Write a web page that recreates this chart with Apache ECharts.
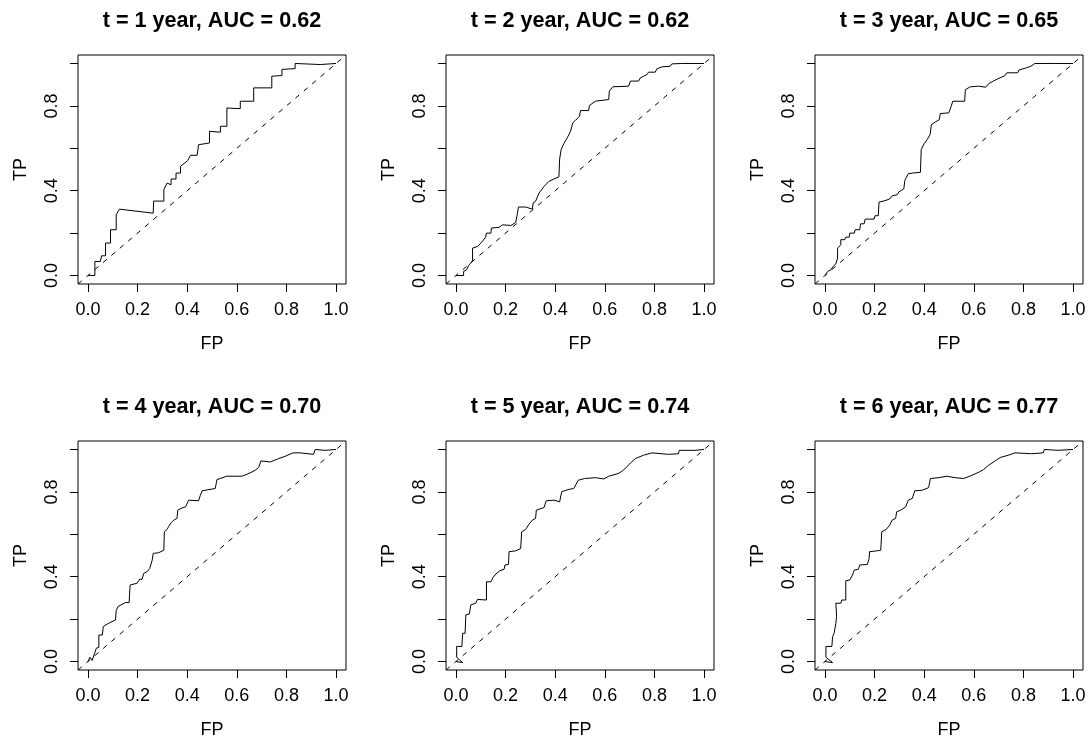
<!DOCTYPE html>
<html lang="en">
<head>
  <meta charset="UTF-8">
  <title>ROC</title>
  <style>
    * { margin: 0; padding: 0; }
    body { background: #fff; }
    #main { width: 1090px; height: 740px; }
  </style>
</head>
<body>
  <div id="main"></div>
  <script src="https://cdn.jsdelivr.net/npm/echarts@6/dist/echarts.min.js"></script>
  <script>
    // panel titles
    var titles = [
      't = 1 year, AUC = 0.62', 't = 2 year, AUC = 0.62', 't = 3 year, AUC = 0.65',
      't = 4 year, AUC = 0.70', 't = 5 year, AUC = 0.74', 't = 6 year, AUC = 0.77'
    ];
    var xTicks = [0, 0.2, 0.4, 0.6, 0.8, 1];
    var yTicks = [0, 0.2, 0.4, 0.6, 0.8, 1];
    var yLabels = [0, 0.4, 0.8];
    var diag = [-0.04, 1.04];

    // ROC points (FP, TP)
    var fp1 = [0, .028, .028, .050, .055, .055, .071, .071, .091, .091, .114, .114, .127, .263, .265, .306, .306, .319, .335, .335, .355, .355, .373, .373, .402, .413, .440, .446, .490, .490, .534, .534, .560, .560, .614, .614, .668, .668, .741, .741, .782, .782, .835, .835, .936, 1];
    var tp1 = [0, 0, .066, .066, .058, .093, .093, .153, .153, .216, .216, .287, .313, .294, .351, .351, .405, .436, .428, .455, .455, .483, .483, .515, .542, .567, .567, .617, .625, .680, .676, .704, .704, .790, .787, .822, .822, .885, .885, .940, .943, .972, .976, 1.0, .995, 1];

    var fp2 = [0, .031, .031, .043, .051, .067, .067, .087, .103, .120, .123, .141, .143, .174, .187, .221, .241, .248, .252, .281, .308, .311, .321, .335, .355, .375, .395, .415, .418, .424, .435, .452, .462, .471, .482, .498, .502, .535, .538, .562, .616, .618, .632, .696, .703, .736, .743, .770, .776, .803, .810, .830, .863, .870, .910, 1];
    var tp2 = [0, 0, .019, .027, .047, .069, .129, .137, .156, .181, .200, .200, .224, .227, .239, .236, .250, .294, .323, .323, .313, .342, .350, .389, .420, .444, .455, .465, .550, .594, .622, .657, .680, .720, .732, .751, .778, .778, .802, .822, .830, .869, .890, .893, .917, .917, .932, .948, .959, .959, .975, .984, .987, .998, 1.0, 1];

    var fp3 = [0, .011, .017, .024, .033, .044, .051, .051, .064, .064, .080, .084, .098, .100, .118, .122, .140, .144, .158, .162, .198, .202, .215, .218, .242, .261, .271, .291, .298, .318, .322, .336, .352, .385, .388, .400, .412, .424, .429, .445, .461, .465, .499, .509, .515, .563, .566, .586, .619, .648, .659, .679, .697, .726, .733, .777, .782, .813, .830, .846, .920, 1];
    var tp3 = [0, .019, .011, .027, .043, .055, .082, .129, .145, .169, .169, .181, .181, .200, .200, .216, .216, .244, .244, .266, .266, .282, .282, .346, .353, .361, .376, .381, .394, .409, .449, .480, .483, .487, .594, .622, .641, .665, .712, .724, .735, .764, .767, .798, .822, .822, .877, .890, .893, .888, .904, .917, .928, .943, .956, .956, .969, .980, .987, 1.0, 1.0, 1];

    var fp4 = [0, .008, .017, .027, .034, .044, .044, .058, .062, .078, .111, .114, .121, .151, .166, .170, .198, .209, .218, .225, .239, .249, .259, .263, .285, .306, .308, .319, .326, .335, .346, .359, .362, .383, .393, .406, .446, .453, .460, .513, .520, .560, .621, .641, .661, .674, .688, .697, .735, .768, .795, .826, .855, .909, .916, .956, 1];
    var tp4 = [0, .020, .005, .039, .063, .067, .125, .125, .165, .177, .196, .240, .259, .278, .278, .361, .369, .389, .387, .416, .424, .439, .478, .510, .513, .525, .612, .623, .638, .654, .667, .675, .714, .726, .729, .761, .758, .784, .805, .816, .858, .874, .874, .883, .894, .902, .915, .946, .941, .957, .968, .984, .984, .977, 1.0, .996, 1];

    var fp5 = [0, .027, .003, .003, .024, .027, .037, .040, .054, .060, .080, .087, .123, .123, .141, .150, .161, .177, .194, .198, .212, .214, .241, .261, .265, .281, .295, .308, .321, .324, .355, .364, .395, .418, .426, .452, .475, .493, .519, .562, .596, .616, .653, .669, .689, .703, .723, .756, .790, .857, .897, .900, .964, 1];
    var tp5 = [0, -.005, .020, .071, .071, .133, .133, .220, .224, .267, .275, .293, .290, .376, .376, .397, .413, .428, .435, .455, .458, .518, .522, .533, .612, .623, .648, .667, .675, .714, .726, .758, .761, .753, .800, .811, .816, .855, .863, .867, .861, .874, .886, .897, .918, .936, .957, .973, .984, .977, .980, .996, .996, 1];

    var fp6 = [0, .031, .004, .004, .028, .031, .037, .044, .047, .044, .064, .068, .084, .084, .100, .111, .118, .135, .140, .171, .178, .180, .211, .225, .229, .247, .261, .271, .285, .289, .305, .325, .336, .352, .360, .362, .392, .418, .425, .459, .492, .525, .559, .592, .622, .639, .659, .686, .706, .739, .766, .833, .880, .884, .940, 1];
    var tp6 = [0, -.005, .020, .071, .071, .118, .133, .180, .212, .275, .275, .290, .290, .381, .384, .408, .431, .435, .455, .458, .486, .518, .522, .525, .612, .623, .643, .667, .675, .706, .714, .729, .761, .769, .776, .805, .808, .820, .863, .867, .874, .867, .863, .878, .894, .905, .925, .946, .962, .973, .984, .980, .984, 1.0, .996, 1];

    var fps = [fp1, fp2, fp3, fp4, fp5, fp6];
    var tps = [tp1, tp2, tp3, tp4, tp5, tp6];

    var lefts = [78, 446, 815];
    var tops = [55, 441];
    var gw = 268, gh = 229;
    var font = '"Liberation Sans", Arial, sans-serif';

    var chart = echarts.init(document.getElementById('main'));
    var grid = [], xAxis = [], yAxis = [], series = [], graphic = [];

    for (var i = 0; i < 6; i++) {
      var l = lefts[i % 3], t = tops[Math.floor(i / 3)];
      grid.push({ left: l, top: t, width: gw, height: gh, show: true, borderColor: '#000', borderWidth: 1, containLabel: false });
      xAxis.push({
        gridIndex: i, type: 'value', min: diag[0], max: diag[1],
        name: 'FP', nameLocation: 'middle', nameGap: 51,
        nameTextStyle: { fontFamily: font, fontSize: 18, color: '#000' },
        axisLine: { show: false, onZero: false },
        splitLine: { show: false },
        axisTick: { show: true, length: 8, lineStyle: { color: '#000' }, customValues: xTicks },
        axisLabel: { customValues: xTicks, margin: 17, fontFamily: font, fontSize: 18, color: '#000',
          formatter: function (v) { return v.toFixed(1); } }
      });
      yAxis.push({
        gridIndex: i, type: 'value', min: diag[0], max: diag[1],
        name: 'TP', nameLocation: 'middle', nameGap: 48,
        nameTextStyle: { fontFamily: font, fontSize: 18, color: '#000' },
        axisLine: { show: false, onZero: false },
        splitLine: { show: false },
        axisTick: { show: true, length: 8, lineStyle: { color: '#000' }, customValues: yTicks },
        axisLabel: { customValues: yLabels, rotate: 90, margin: 17, fontFamily: font, fontSize: 18, color: '#000',
          formatter: function (v) { return v.toFixed(1); } }
      });
      var pts = fps[i].map(function (x, k) { return [x, tps[i][k]]; });
      series.push({
        type: 'line', xAxisIndex: i, yAxisIndex: i, data: pts,
        showSymbol: false, lineStyle: { color: '#000', width: 1 }, silent: true
      });
      series.push({
        type: 'line', xAxisIndex: i, yAxisIndex: i, data: [[diag[0], diag[0]], [diag[1], diag[1]]],
        showSymbol: false, lineStyle: { color: '#000', width: 1, type: [5, 6] }, silent: true
      });
      graphic.push({
        type: 'text', x: l + gw / 2, y: t - 34,
        style: { text: titles[i], font: 'bold 21.6px ' + font, fill: '#000', textAlign: 'center', textVerticalAlign: 'middle' }
      });
    }

    chart.setOption({
      animation: false,
      backgroundColor: '#fff',
      grid: grid, xAxis: xAxis, yAxis: yAxis, series: series, graphic: graphic
    });
  </script>
</body>
</html>
